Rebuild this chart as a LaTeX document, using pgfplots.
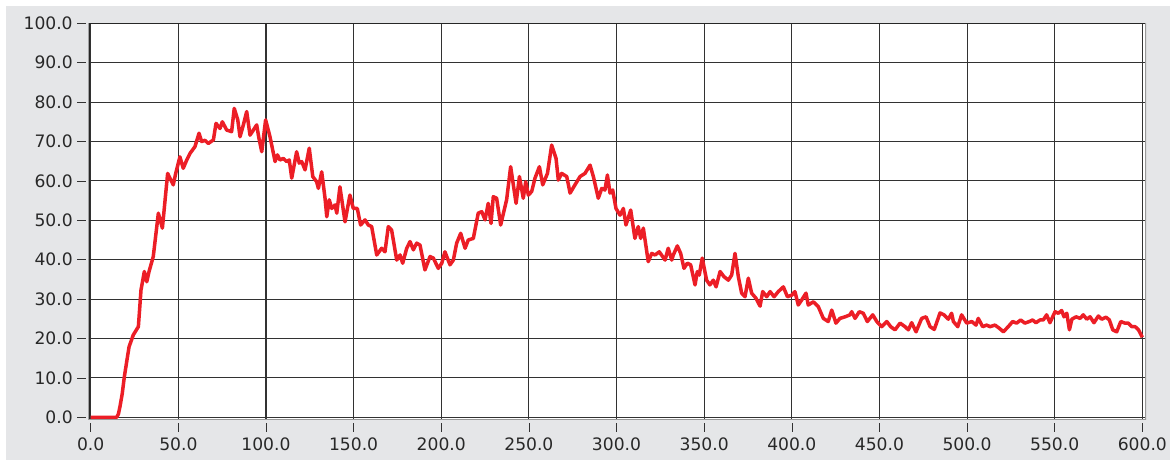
\documentclass[border=0pt]{standalone}
\usepackage{pgfplots}
\pgfplotsset{compat=1.18}
\usepackage{fontspec}
\setmainfont{DejaVu Sans}
\definecolor{panel}{RGB}{229,230,232}
\definecolor{curve}{RGB}{236,30,38}
\definecolor{gridc}{RGB}{50,50,50}
\definecolor{txt}{RGB}{40,40,40}
\begin{document}
\begin{tikzpicture}
\fill[white] (0bp,0bp) rectangle (587.5bp,231bp);
\fill[panel] (3bp,1bp) rectangle (585bp,228bp);
\begin{axis}[
    at={(44.35bp,21bp)}, anchor=south west,
    scale only axis,
    width=528.65bp, height=198.35bp,
    xmin=-1.14, xmax=602.1,
    ymin=-0.69, ymax=100,
    xtick distance=50, ytick distance=10,
    tick align=outside,
    major tick length=4.5bp,
    xtick style={yshift=-1.3bp, gridc},
    ytick style={xshift=-1.3bp, gridc},
    tick pos=left,
    grid=major,
    major grid style={gridc, line width=0.55bp},
    axis line style={draw=none},
    axis background/.style={fill=white},
    tick label style={font=\fontsize{8.6}{10}\selectfont, text=txt},
    xticklabel style={yshift=-1bp},
    /pgf/number format/assume math mode=true,
    /pgf/number format/.cd, fixed, fixed zerofill, precision=1,
]
\addplot[curve, line width=1.75bp, line join=round] coordinates {
(0,0) (14.8,0) (15.8,0.8) (16.7,2.7) (18.0,6) (19.2,10.3) (20.5,14) (21.9,17.9)
(24.3,20.9) (27.2,23) (28.7,32.3) (30.6,37) (32.0,34.4) (33.3,37) (35.7,40.8)
(38.6,51.8) (40.9,48) (43.9,61.9) (45.2,60.7) (47.1,59) (48.5,61.9) (50.9,66.1)
(52.8,63.2) (54.8,65.3) (56.7,67) (59.5,68.7) (61.8,72.1) (63.3,70) (65.2,70.3)
(67.1,69.5) (70.0,70.4) (71.5,74.6) (73.8,73.3) (75.1,75) (77.6,72.9) (80.4,72.5)
(81.9,78.4) (83.9,75.5) (85.2,71.2) (87.1,74.2) (89.0,77.6) (90.9,71.6) (92.8,72.9)
(94.7,74.2) (96.0,70.8) (97.6,67.4) (99.8,75.5) (102.3,71.2) (105.2,64.9)
(106.5,66.6) (108,65.3) (109.9,65.7) (111.8,64.9) (113.3,65.3) (114.7,60.7)
(117.5,67.4) (119,64.5) (120.4,64.9) (122.3,62.8) (124.7,68.3) (126.7,61.1)
(128.9,59.8) (129.9,58.1) (131.8,62.3) (133.7,55.6) (134.7,50.9) (136.1,55.2)
(137.5,53) (139.4,53.9) (140.4,51.8) (142.2,58.5) (145.1,49.6) (147.9,56.4)
(149.8,53) (152.1,53) (154,48.8) (156.5,50.1) (158.4,48.8) (160.3,48.4)
(163.2,41.2) (166,42.9) (167.9,42.0) (169.8,48.4) (171.7,47.5) (174.6,39.9)
(176.5,41.2) (178,39.1) (180.3,42.9) (182.2,44.6) (184.1,42.5) (186,44.2)
(187.9,43.7) (190.7,37.4) (193.6,40.8) (195.5,40.4) (198.3,37.8) (200.3,39.1)
(202.1,42.0) (205,38.7) (206.9,39.9) (208.8,44.2) (211.1,46.7) (213.6,42.9)
(215.4,45.0) (218.3,45.4) (221.1,51.8) (223.1,52.2) (225,50.1) (226.8,54.3)
(228.4,49.2) (229.7,56) (231.6,55.6) (233.9,48.8) (237.3,55.2) (239.6,63.6)
(242.7,54.3) (244.6,61.1) (246.8,55.6) (248.2,59.8) (249.7,56.4) (251.6,57.3)
(253.5,60.7) (256,63.6) (257.9,59) (260.6,61.9) (263,69.1) (265.5,65.7)
(266.8,60.2) (268.7,61.9) (271.6,61.1) (273.5,56.9) (276.3,59) (279.2,61.1)
(282,61.9) (284.9,64) (286.8,61.1) (289.6,55.6) (291.6,58.1) (293.4,57.7)
(294.8,61.5) (296.3,56.9) (297.8,57.7) (299.7,53) (302,51.3) (303.9,53)
(305.4,48.8) (308.1,52.6) (310.5,45.4) (312.4,48.4) (313.8,45.4) (315.3,48)
(318.1,39.5) (320.1,41.6) (322,41.2) (324.4,42.0) (327.7,39.9) (329.5,42.9)
(331.5,39.9) (332.4,41.2) (334.7,43.5) (336.6,41.6) (338.5,37.8) (340.4,39.1)
(342.3,38.7) (344.8,33.6) (346.1,37) (347.2,36.1) (348.9,40.4) (351.4,34.8)
(353.3,33.6) (355.2,34.8) (356.8,33.1) (359.1,37) (361.3,35.7) (363.8,34.8)
(365.7,36.1) (367.6,41.6) (369.5,35.7) (371.4,31.5) (373.3,30.6) (375.2,35.3)
(377.1,31.5) (379.6,30.2) (381.9,28.2) (383.4,31.9) (385.7,30.6) (387.6,31.9)
(389.9,30.6) (392.3,31.9) (395.2,33.1) (397.5,30.6) (400,31.0) (401.8,31.9)
(403.7,28.5) (405.7,29.8) (408.1,31.5) (409.4,28.5) (412.3,29.3) (415.1,28.1)
(418,25.1) (420.8,24.3) (422.8,27.2) (425.2,23.9) (427.5,25.1) (430.4,25.5)
(433.2,26) (434.2,26.8) (436.1,25.1) (438.5,26.8) (440.8,26.4) (443.1,24.3)
(446.2,26) (448.5,24.3) (451.3,23) (454.2,24.3) (456.4,23) (458.9,22.2)
(461.8,23.9) (464.6,23) (466.5,22.2) (468.4,24) (470.9,21.7) (474.1,25.1)
(476.6,25.5) (478.9,23) (481.3,22.3) (484.6,26.5) (486.8,26) (489.3,24.9)
(491.2,26.4) (492.2,24.3) (494.7,23) (496.9,26) (499.8,23.9) (502.7,24.3)
(505.1,23.4) (506.4,25.1) (508.9,23) (511.2,23.4) (513.1,23) (515.9,23.4)
(518.4,22.6) (520.7,21.7) (523.5,23) (526,24.3) (528.3,23.9) (530.6,24.7)
(533,23.9) (535.5,24.3) (537.4,24.7) (539.3,24) (541.6,24.7) (543.5,24.7)
(545.4,26) (547.3,24) (550.2,26.8) (552.1,26.4) (554,27.1) (555.3,25.5)
(556.9,26.4) (558.4,22.2) (559.8,24.9) (562.2,25.5) (564.5,25.1) (566.3,26)
(568.3,24.9) (570.2,25.5) (572.4,24) (574.9,25.7) (576.8,24.9) (579.3,25.4)
(581.2,24.7) (583.1,22.2) (585.4,21.7) (587.7,24.3) (590.1,23.9) (592,23.9)
(594,23) (595.9,23) (597.8,22.2) (600,20.3)
};
% frame: dark on top and left, grey on bottom and right
\draw[black!85, line width=1bp] (rel axis cs:0,0) -- (rel axis cs:0,1) -- (rel axis cs:1,1);
\draw[black!40, line width=1bp] (rel axis cs:1,1) -- (rel axis cs:1,0) -- (rel axis cs:0,0);
\end{axis}
\end{tikzpicture}
\end{document}
